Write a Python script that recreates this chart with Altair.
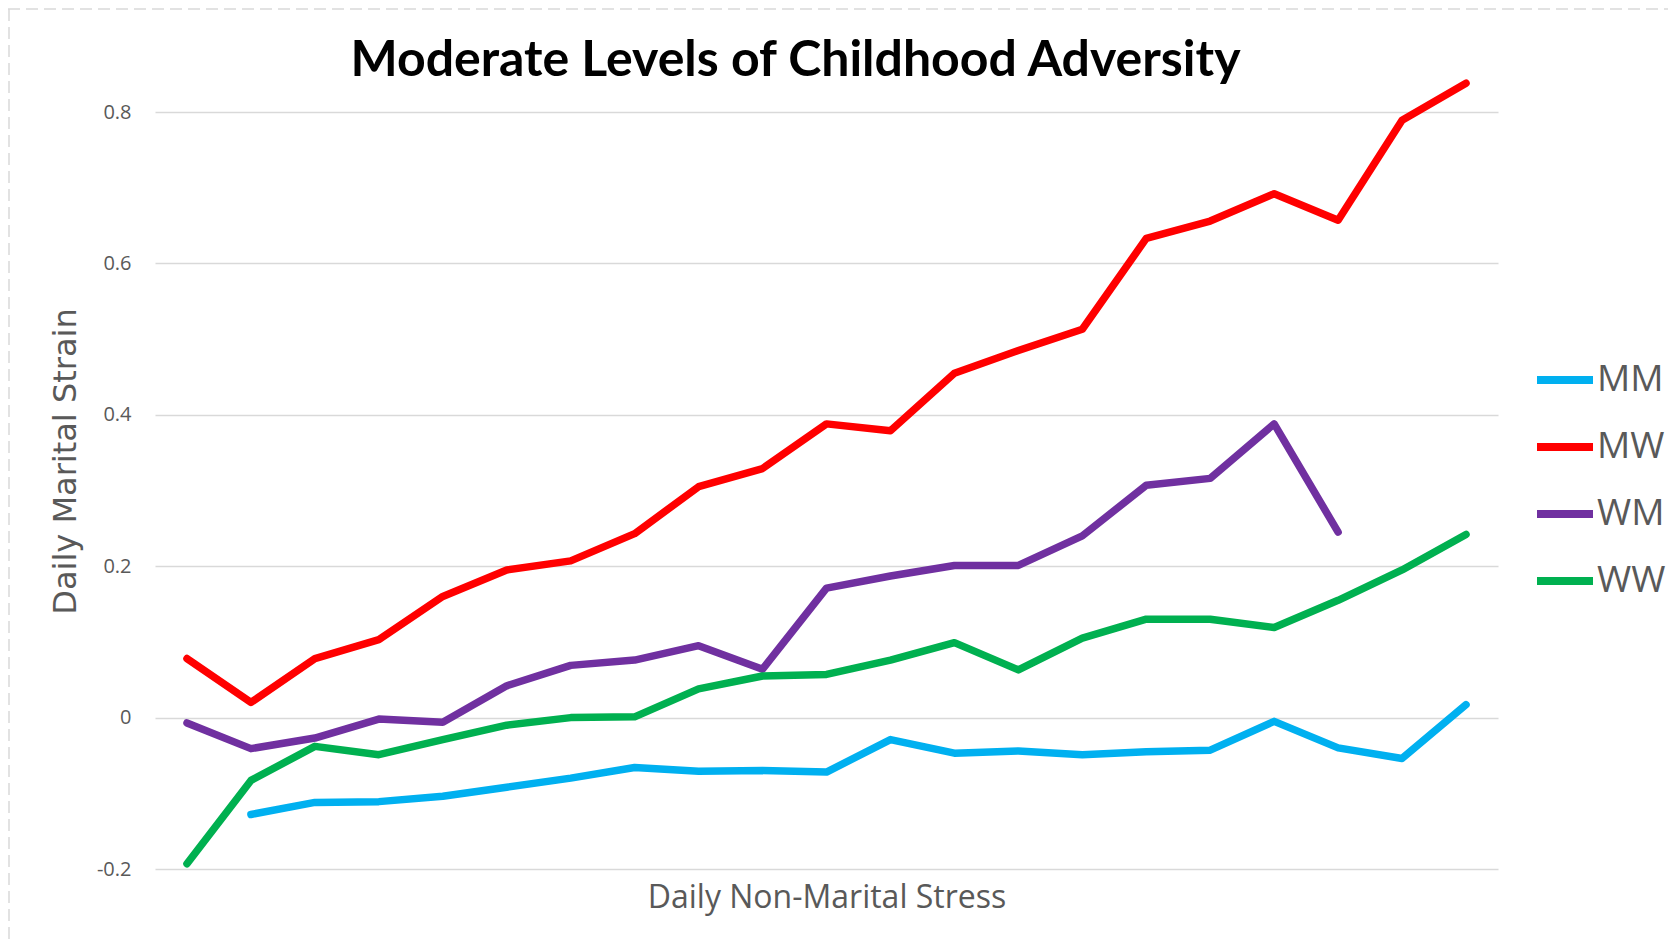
import altair as alt
import pandas as pd

# ---- data ----
stress_steps = list(range(1, 22))
series_names = ["MM", "MW", "WM", "WW"]
series_colors = ["#00B0F0", "#FF0000", "#7030A0", "#00B050"]

mm = [None, -0.128, -0.112, -0.111, -0.104, -0.092, -0.080, -0.066, -0.071, -0.070,
      -0.072, -0.029, -0.047, -0.044, -0.049, -0.045, -0.043, -0.005, -0.040, -0.054, 0.017]
mw = [0.078, 0.020, 0.078, 0.103, 0.160, 0.195, 0.207, 0.243, 0.305, 0.329,
      0.388, 0.379, 0.455, 0.485, 0.513, 0.633, 0.656, 0.692, 0.657, 0.789, 0.838]
wm = [-0.007, -0.041, -0.027, -0.002, -0.006, 0.042, 0.069, 0.076, 0.095, 0.064,
      0.171, 0.187, 0.201, 0.201, 0.240, 0.307, 0.316, 0.388, 0.245, None, None]
ww = [-0.193, -0.083, -0.038, -0.049, -0.029, -0.010, 0.000, 0.001, 0.038, 0.055,
      0.057, 0.076, 0.099, 0.063, 0.105, 0.130, 0.130, 0.119, 0.155, 0.195, 0.242]

y_ticks = [-0.2, 0, 0.2, 0.4, 0.6, 0.8]

rows = []
for name, vals in zip(series_names, [mm, mw, wm, ww]):
    for s, v in zip(stress_steps, vals):
        if v is not None:
            rows.append({"step": s, "value": v, "series": name})
df = pd.DataFrame(rows)

PLOT_W = 1343
PLOT_H = 757
GREY = "#595959"

lines = alt.Chart(df).mark_line(
    strokeWidth=7.5, strokeCap="round", strokeJoin="round"
).encode(
    x=alt.X(
        "step:O",
        scale=alt.Scale(type="point", padding=0.5),
        axis=alt.Axis(
            title="Daily Non-Marital Stress",
            labels=False, ticks=False, domain=False, grid=False,
            titleFont="Open Sans", titleFontSize=32, titleFontWeight="normal",
            titleColor=GREY, titleBaseline="alphabetic", titleAlign="center",
            titleX=PLOT_W / 2, titleY=38,
        ),
    ),
    y=alt.Y(
        "value:Q",
        scale=alt.Scale(domain=[-0.2, 0.8], nice=False, zero=False),
        axis=alt.Axis(
            title="Daily Marital Strain",
            values=y_ticks,
            labelExpr="datum.value == 0 ? '0' : toString(round(datum.value * 10) / 10)",
            labelFont="Open Sans", labelFontSize=20, labelColor=GREY,
            labelPadding=24, ticks=False, domain=False,
            gridColor="#D9D9D9", gridWidth=1.5,
            titleFont="DejaVu Sans", titleFontSize=32, titleFontWeight="normal",
            titleColor=GREY, titleAngle=270, titleBaseline="alphabetic",
            titleAlign="center", titleX=-80, titleY=349,
        ),
    ),
    color=alt.Color(
        "series:N",
        scale=alt.Scale(domain=series_names, range=series_colors),
        legend=alt.Legend(
            title=None, orient="none", legendX=1378, legendY=236,
            symbolType="stroke", symbolSize=3136, symbolStrokeWidth=8,
            labelFont="Open Sans", labelFontSize=37, labelColor=GREY,
            labelOffset=0, rowPadding=17, padding=0,
        ),
    ),
    order=alt.Order("step:O"),
)

border_top = alt.Chart(pd.DataFrame({"k": [0]})).mark_rule(
    color="#D9D9D9", strokeWidth=1.5, strokeDash=[12, 6]
).encode(x=alt.value(-147), x2=alt.value(PLOT_W + 170), y=alt.value(-103))

border_left = alt.Chart(pd.DataFrame({"k": [0]})).mark_rule(
    color="#D9D9D9", strokeWidth=1.5, strokeDash=[12, 6]
).encode(x=alt.value(-146), y=alt.value(-103), y2=alt.value(PLOT_H + 70))

chart = alt.layer(border_top, border_left, lines).properties(
    width=PLOT_W,
    height=PLOT_H,
    title=alt.Title(
        "Moderate Levels of Childhood Adversity",
        anchor="middle", frame="group", baseline="alphabetic",
        offset=-118, dx=-31,
        font="Lato", fontSize=50, fontWeight="bold",
        color="#000000",
    ),
    autosize=alt.AutoSizeParams(type="none"),
    padding={"left": 147, "top": 104, "right": 170, "bottom": 70},
).configure_view(stroke=None)

chart.save("out.html", embed_options={"renderer": "svg", "actions": False})
